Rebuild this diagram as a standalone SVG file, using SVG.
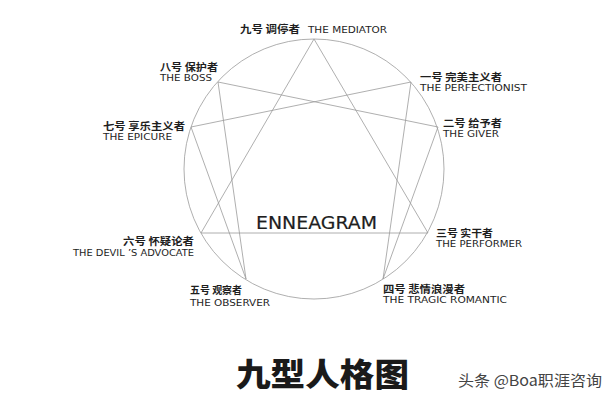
<svg xmlns="http://www.w3.org/2000/svg" width="615" height="410" viewBox="0 0 615 410">
<style>
.cn{font-family:"Noto Sans CJK SC","Noto Sans",sans-serif;font-weight:bold;font-size:10px;fill:#1e1e1e}
.en{font-family:"DejaVu Sans","Liberation Sans",sans-serif;font-size:8.5px;fill:#1e1e1e}
.ln{stroke:#9a9a9a;stroke-width:0.8;fill:none}
</style>
<rect width="615" height="410" fill="#fff"/>
<g id="connectors">
<circle class="ln" cx="314" cy="169" r="130" stroke="#b0b0b0"/>
<polygon class="ln" points="314,39 428,233 201,233"/>
<polygon class="ln" points="411,82 383,279 438,127 218,82 246,279 191,127"/>
</g>
<g id="center"><text x="256" y="229" font-family="DejaVu Sans,Liberation Sans,sans-serif" font-size="17.5" fill="#1e1e1e" stroke="#1e1e1e" stroke-width="0.2" textLength="121" lengthAdjust="spacingAndGlyphs">ENNEAGRAM</text></g>
<g id="n9"><text class="cn" x="240" y="33" textLength="60" lengthAdjust="spacingAndGlyphs">九号 调停者</text><text class="en" x="308" y="33" textLength="79" lengthAdjust="spacingAndGlyphs">THE MEDIATOR</text></g>
<g id="n8"><text class="cn" x="160" y="71" textLength="58" lengthAdjust="spacingAndGlyphs">八号 保护者</text><text class="en" x="160" y="81" textLength="52" lengthAdjust="spacingAndGlyphs">THE BOSS</text></g>
<g id="n7"><text class="cn" x="103" y="130" textLength="82" lengthAdjust="spacingAndGlyphs">七号 享乐主义者</text><text class="en" x="103" y="140" textLength="69" lengthAdjust="spacingAndGlyphs">THE EPICURE</text></g>
<g id="n1"><text class="cn" x="420" y="81" textLength="82" lengthAdjust="spacingAndGlyphs">一号 完美主义者</text><text class="en" x="420" y="91" textLength="107" lengthAdjust="spacingAndGlyphs">THE PERFECTIONIST</text></g>
<g id="n2"><text class="cn" x="443" y="127" textLength="59" lengthAdjust="spacingAndGlyphs">二号 给予者</text><text class="en" x="443" y="137" textLength="56" lengthAdjust="spacingAndGlyphs">THE GIVER</text></g>
<g id="n6"><text class="cn" x="123" y="245" textLength="71" lengthAdjust="spacingAndGlyphs">六号 怀疑论者</text><text class="en" x="73" y="256" textLength="121" lengthAdjust="spacingAndGlyphs">THE DEVIL ’S ADVOCATE</text></g>
<g id="n5"><text class="cn" x="190" y="294" textLength="52" lengthAdjust="spacingAndGlyphs">五号 观察者</text><text class="en" x="190" y="306" textLength="80" lengthAdjust="spacingAndGlyphs">THE OBSERVER</text></g>
<g id="n3"><text class="cn" x="436" y="237" textLength="57" lengthAdjust="spacingAndGlyphs">三号 实干者</text><text class="en" x="436" y="247" textLength="86" lengthAdjust="spacingAndGlyphs">THE PERFORMER</text></g>
<g id="n4"><text class="cn" x="383" y="293" textLength="82" lengthAdjust="spacingAndGlyphs">四号 悲情浪漫者</text><text class="en" x="383" y="303" textLength="124" lengthAdjust="spacingAndGlyphs">THE TRAGIC ROMANTIC</text></g>
<g id="title"><text x="236" y="386" font-family="Noto Sans CJK SC,sans-serif" font-weight="900" font-size="32" fill="#1a1a1a" textLength="173" lengthAdjust="spacingAndGlyphs">九型人格图</text></g>
<g id="watermark"><text x="458" y="386" font-family="Noto Sans CJK SC,sans-serif" font-size="15" fill="#444" textLength="144" lengthAdjust="spacingAndGlyphs">头条 @Boa职涯咨询</text></g>
</svg>
